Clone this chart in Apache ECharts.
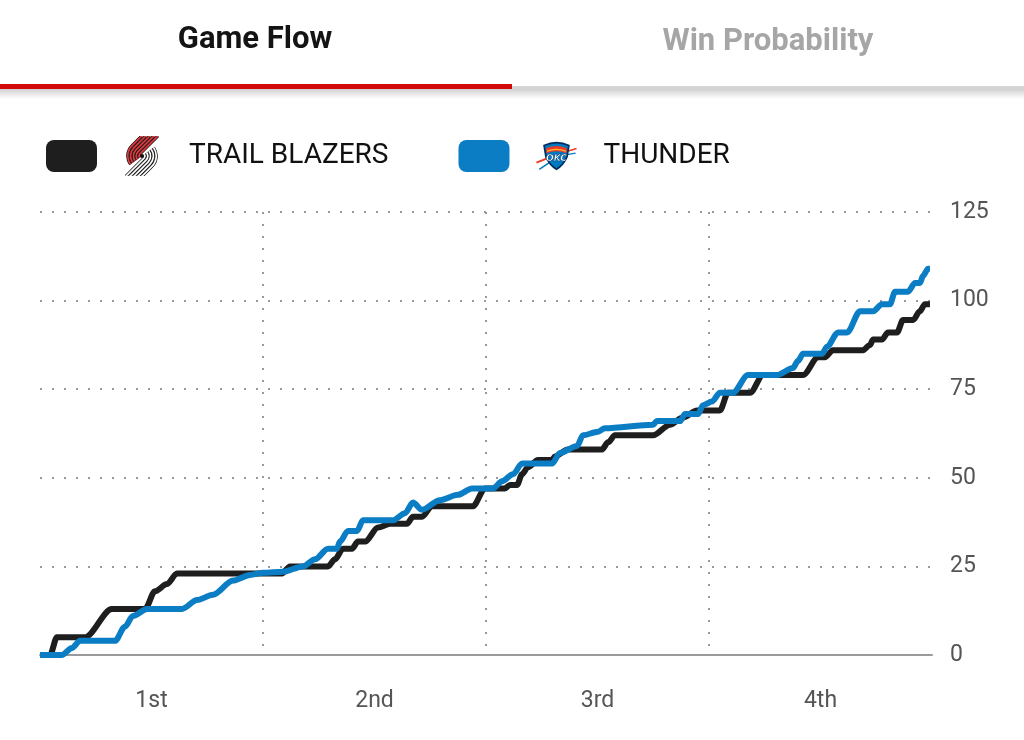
<!DOCTYPE html>
<html>
<head>
<meta charset="utf-8">
<script src="https://cdn.jsdelivr.net/npm/echarts@6/dist/echarts.min.js"></script>
<style>
  html, body { margin: 0; padding: 0; background: #fff; }
  #flow { width: 1024px; height: 740px; }
</style>
</head>
<body>
<div id="flow"></div>
<script>
// game clock (minutes elapsed) and running score
var blazersTime = [0, 0.54, 0.91, 2.42, 3.87, 5.65, 6.19, 6.83, 7.37, 13.02, 13.45, 15.50, 15.87, 16.31, 16.79, 17.11, 17.49, 18.19, 18.83, 19.75, 20.07, 20.56, 21.09, 23.30, 23.95, 25.02, 25.29, 25.67, 25.94, 26.26, 26.80, 27.55, 27.71, 28.41, 30.24, 30.57, 30.94, 32.99, 33.90, 34.60, 35.36, 36.59, 37.02, 38.21, 38.91, 41.06, 41.87, 42.24, 42.67, 44.29, 44.66, 44.83, 45.31, 45.63, 46.12, 46.44, 46.98, 47.35, 47.62, 47.89];
var blazersScore = [0, 0, 5, 5, 13, 13, 18, 20, 23, 23, 25, 25, 27, 30, 30, 32, 32, 36, 37, 37, 39, 39, 42, 42, 47, 47, 48, 48, 51, 53, 55, 55, 56, 58, 58, 60, 62, 62, 65, 67, 69, 69, 74, 74, 79, 79, 84, 84, 86, 86, 87.5, 89, 89, 91, 91, 94.5, 94.5, 97, 99, 99];

var thunderTime = [0, 1.18, 1.72, 2.15, 4.04, 4.57, 5.00, 5.76, 7.64, 8.45, 9.31, 10.39, 11.30, 12.00, 13.08, 14.15, 14.80, 15.50, 15.98, 16.14, 16.57, 17.06, 17.38, 19.00, 19.64, 20.07, 20.56, 21.52, 22.49, 23.25, 24.38, 24.86, 25.45, 25.94, 27.55, 27.98, 28.90, 29.22, 30.03, 30.40, 32.99, 33.20, 34.44, 34.71, 35.41, 35.68, 36.16, 36.59, 37.29, 38.10, 39.66, 40.52, 40.79, 41.06, 42.08, 42.35, 42.94, 43.43, 44.13, 44.83, 45.31, 45.74, 46.01, 46.71, 47.09, 47.35, 47.52, 47.79, 47.89];
var thunderScore = [0, 0, 2, 4, 4, 8, 11, 13, 13, 15.5, 17, 21, 22.6, 23.2, 23.5, 25, 27, 30, 30, 32, 35, 35, 38, 38, 40, 43, 41, 43.7, 45.2, 47, 47, 49, 51, 54, 54, 57, 59, 62, 63, 64, 65, 66, 66, 68, 68, 70.5, 71.5, 74, 74, 79, 79, 81, 83, 85, 85, 87, 91, 91, 97, 97, 99, 99, 102.5, 102.5, 105, 105, 107, 109, 109];

var quarters = ['1st', '2nd', '3rd', '4th'];
var scoreTicks = [0, 25, 50, 75, 100, 125];
var teams = ['TRAIL BLAZERS', 'THUNDER'];

function pairs(t, s) {
    return t.map(function (v, i) { return [v, s[i]]; });
}

function svgUri(svg) {
    return 'data:image/svg+xml;charset=utf-8,' + encodeURIComponent(svg);
}

// blazers pinwheel: diagonal tails that hook round the centre
var porSvg = (function () {
    var cx = 20, cy = 23, red = '', white = '';
    [3, 6, 9, 12, 15].forEach(function (r) {
        var k = 0.7071, t = 21 - k * r;
        var sx = cx - k * r, sy = cy - k * r;
        var ex = cx + r * Math.cos(Math.PI * 0.8), ey = cy + r * Math.sin(Math.PI * 0.8);
        var d = 'M' + (sx + t).toFixed(2) + ' ' + (sy - t).toFixed(2) + ' L' + sx.toFixed(2) + ' ' + sy.toFixed(2) +
            ' A' + r + ' ' + r + ' 0 0 0 ' + ex.toFixed(2) + ' ' + ey.toFixed(2);
        red += '<path d="' + d + '" fill="none" stroke="#111" stroke-width="3.3"/>' +
               '<path d="' + d + '" fill="none" stroke="#e03a3e" stroke-width="1.8"/>';
        white += '<path d="' + d + '" fill="none" stroke="#111" stroke-width="3.3"/>' +
                 '<path d="' + d + '" fill="none" stroke="#fff" stroke-width="1.8"/>';
    });
    return '<svg xmlns="http://www.w3.org/2000/svg" width="40" height="46" viewBox="0 0 40 46">' +
        '<clipPath id="c"><rect x="0" y="2" width="40" height="42"/></clipPath><g clip-path="url(#c)">' +
        '<g transform="rotate(180 20 23)">' + white + '</g>' + red +
        '<circle cx="20" cy="23" r="2" fill="#111"/></g></svg>';
})();

// thunder shield
var okcSvg = '<svg xmlns="http://www.w3.org/2000/svg" width="44" height="40" viewBox="0 0 44 40">' +
    '<path d="M1 27 L16 21" stroke="#ef3b24" stroke-width="2"/>' +
    '<path d="M4 34 L16 26" stroke="#007ac1" stroke-width="1.6"/>' +
    '<path d="M30 16 L43 12" stroke="#ef3b24" stroke-width="1.6"/>' +
    '<path d="M30 19 L42 17" stroke="#007ac1" stroke-width="1.4"/>' +
    '<path d="M9 9 Q22 3 35 9 L33 21 Q29 30 22 34 Q15 30 11 21 Z" fill="#007ac1" stroke="#002d62" stroke-width="1.8"/>' +
    '<path d="M11 12 Q22 7 33 12 L32.4 17 Q22 13 11.6 17 Z" fill="#ef3b24"/>' +
    '<path d="M12 15 Q22 11 32 15" stroke="#fdbb30" stroke-width="1.2" fill="none"/>' +
    '<text x="22" y="25" font-family="DejaVu Sans" font-weight="bold" font-style="italic" font-size="9.5" fill="#fff" stroke="#002d62" stroke-width="0.4" text-anchor="middle">OKC</text>' +
    '</svg>';

var myChart = echarts.init(document.getElementById('flow'));

var option = {
    backgroundColor: '#fff',
    animation: false,
    textStyle: { fontFamily: 'Roboto' },
    graphic: [
        { type: 'rect', shape: { x: 0, y: 89, width: 1024, height: 10 },
          style: { fill: new echarts.graphic.LinearGradient(0, 0, 0, 1, [
              { offset: 0, color: 'rgba(0,0,0,0.18)' }, { offset: 1, color: 'rgba(0,0,0,0)' }]) } },
        { type: 'rect', shape: { x: 0, y: 86, width: 1024, height: 3 }, style: { fill: '#d4d4d4' } },
        { type: 'rect', shape: { x: 0, y: 84, width: 512, height: 5 }, style: { fill: '#d30a0a' } },
        { type: 'text', style: { x: 255, y: 40, text: 'Game Flow', align: 'center', verticalAlign: 'middle',
          font: 'bold 31px Roboto', fill: '#141414' } },
        { type: 'text', style: { x: 768, y: 42, text: 'Win Probability', align: 'center', verticalAlign: 'middle',
          font: 'bold 31px Roboto', fill: '#a6a6a6' } }
    ],
    legend: {
        left: 46,
        top: 134,
        padding: 0,
        selectedMode: false,
        itemWidth: 51,
        itemHeight: 32,
        itemGap: 70,
        icon: 'roundRect',
        data: teams,
        formatter: function (name) {
            return name === teams[0]
                ? '{sp|}{por|}{sp2|}{name|' + name + '}'
                : '{sp|}{okc|}{sp3|}{name|' + name + '}';
        },
        textStyle: {
            rich: {
                sp: { width: 21 },
                sp2: { width: 28 },
                sp3: { width: 26 },
                por: { width: 38, height: 44, backgroundColor: { image: svgUri(porSvg) } },
                okc: { width: 42, height: 38, backgroundColor: { image: svgUri(okcSvg) } },
                name: { fontSize: 28, color: '#111', fontFamily: 'Roboto' }
            }
        }
    },
    grid: { left: 40, right: 92, top: 212, bottom: 85 },
    xAxis: [
        { type: 'value', min: 0, max: 48, show: false },
        {
            type: 'category',
            data: quarters,
            boundaryGap: true,
            position: 'bottom',
            axisLine: { lineStyle: { color: '#9a9a9a', width: 2 } },
            axisTick: { show: false },
            axisLabel: { fontSize: 23, color: '#555', margin: 35 },
            splitLine: {
                show: true,
                showMinLine: false,
                showMaxLine: false,
                lineStyle: { type: [2, 10], width: 2, color: '#999' }
            }
        }
    ],
    yAxis: {
        type: 'value',
        position: 'right',
        min: scoreTicks[0],
        max: scoreTicks[scoreTicks.length - 1],
        interval: 25,
        axisLine: { show: false },
        axisTick: { show: false },
        axisLabel: { fontSize: 23, color: '#555', margin: 18, align: 'left' },
        splitLine: { lineStyle: { type: [2, 10], width: 2, color: '#999' } }
    },
    series: [
        {
            name: teams[0],
            type: 'line',
            xAxisIndex: 0,
            data: pairs(blazersTime, blazersScore),
            showSymbol: false,
            smooth: 0.3,
            smoothMonotone: 'x',
            color: '#1e1e1e',
            lineStyle: { width: 6, color: '#1e1e1e' }
        },
        {
            name: teams[1],
            type: 'line',
            xAxisIndex: 0,
            data: pairs(thunderTime, thunderScore),
            showSymbol: false,
            smooth: 0.3,
            smoothMonotone: 'x',
            color: '#0a7dc4',
            lineStyle: { width: 6, color: '#0a7dc4' }
        }
    ]
};

myChart.setOption(option);
</script>
</body>
</html>
